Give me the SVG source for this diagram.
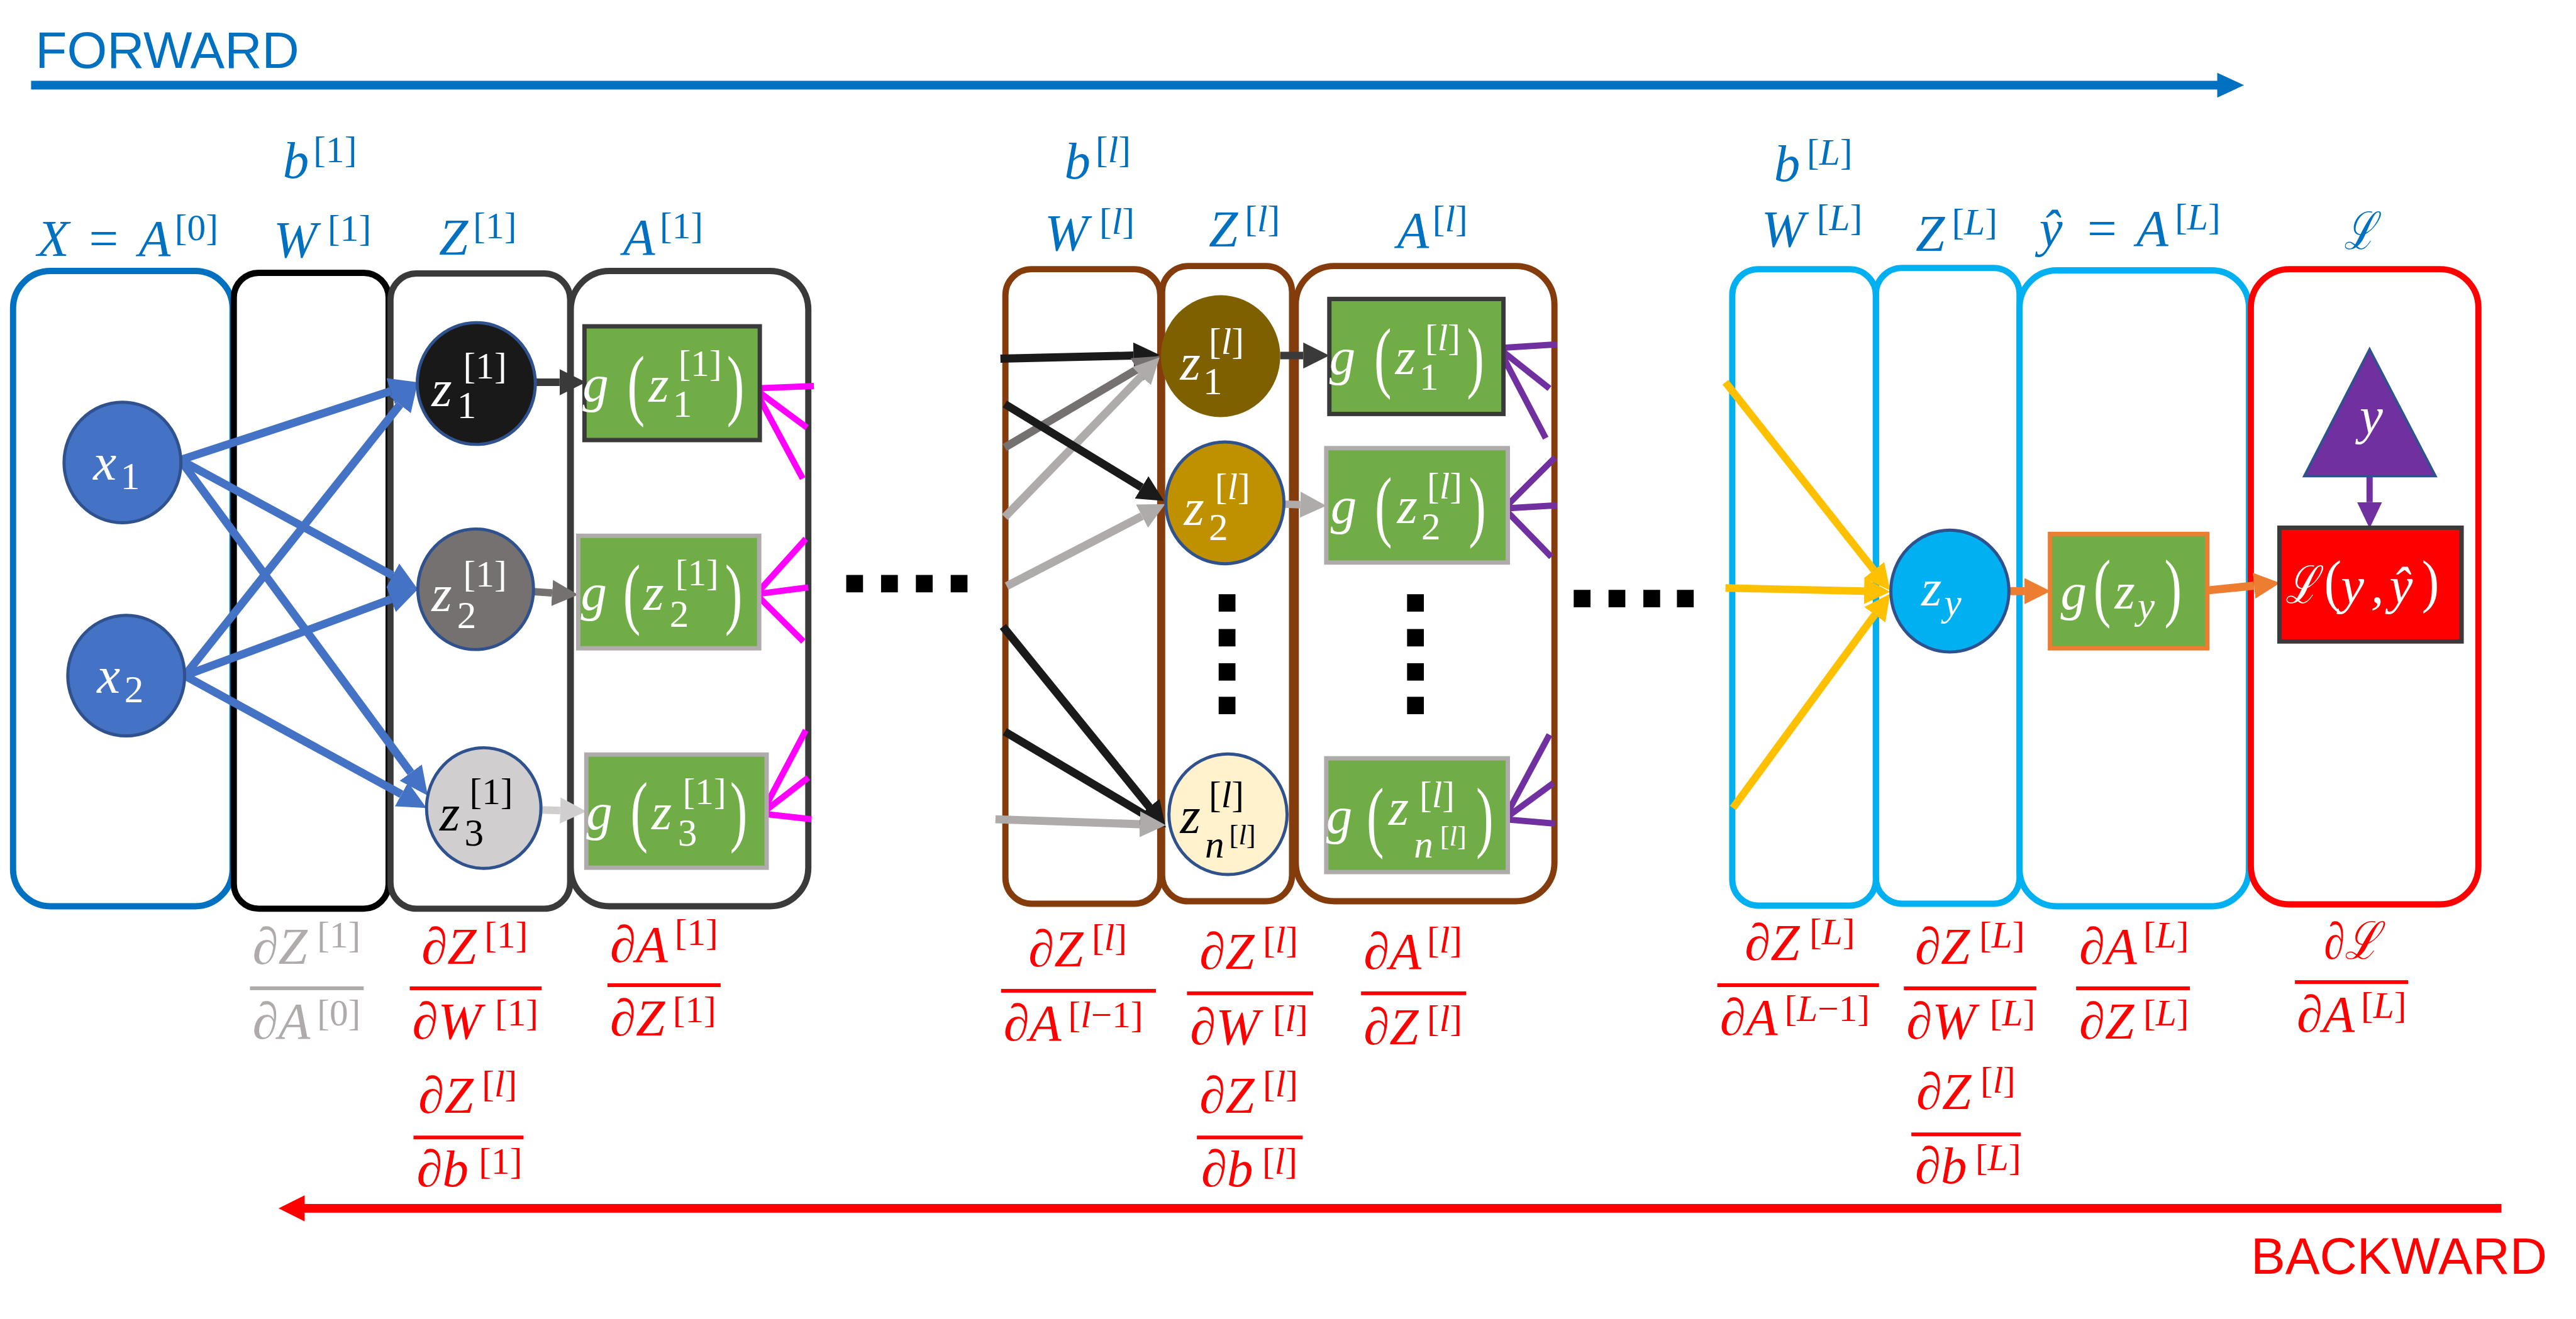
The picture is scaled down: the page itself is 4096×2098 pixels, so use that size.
<svg xmlns="http://www.w3.org/2000/svg" width="4096" height="2098" viewBox="0 0 4096 2098">
<style>
.bx{fill:none;stroke-width:10}
.m{font-family:"Liberation Serif","DejaVu Serif",serif;font-style:italic;font-size:84px}
.u{font-style:normal}
.i{font-style:italic}
.sp{font-size:60px}
.sb{font-size:62px}
.ss{font-size:45px}
.blu{fill:#0070C0}
.red{fill:#FF0000}
.gry{fill:#AFABAB}
.wt{fill:#FFFFFF}
.bk{fill:#000000}
.ln{fill:none;stroke-linecap:butt}
.sans{font-family:"Liberation Sans",Arial,sans-serif;font-size:83px}
</style>
<defs>
<marker id="aB" markerUnits="userSpaceOnUse" viewBox="0 -22 46 44" refX="0" refY="0" markerWidth="46" markerHeight="44" orient="auto"><path d="M0,-22L46,0L0,22z" fill="#4472C4"/></marker>
<marker id="aD" markerUnits="userSpaceOnUse" viewBox="0 -21 42 42" refX="0" refY="0" markerWidth="42" markerHeight="42" orient="auto"><path d="M0,-21L42,0L0,21z" fill="#3A3A3A"/></marker>
<marker id="aG" markerUnits="userSpaceOnUse" viewBox="0 -21 42 42" refX="0" refY="0" markerWidth="42" markerHeight="42" orient="auto"><path d="M0,-21L42,0L0,21z" fill="#767171"/></marker>
<marker id="aL" markerUnits="userSpaceOnUse" viewBox="0 -21 42 42" refX="0" refY="0" markerWidth="42" markerHeight="42" orient="auto"><path d="M0,-21L42,0L0,21z" fill="#D0CECE"/></marker>
<marker id="aS" markerUnits="userSpaceOnUse" viewBox="0 -21 42 42" refX="0" refY="0" markerWidth="42" markerHeight="42" orient="auto"><path d="M0,-21L42,0L0,21z" fill="#AFABAB"/></marker>
<marker id="aK" markerUnits="userSpaceOnUse" viewBox="0 -21 42 42" refX="0" refY="0" markerWidth="42" markerHeight="42" orient="auto"><path d="M0,-21L42,0L0,21z" fill="#1A1A1A"/></marker>
<marker id="aY" markerUnits="userSpaceOnUse" viewBox="0 -21 42 42" refX="0" refY="0" markerWidth="42" markerHeight="42" orient="auto"><path d="M0,-21L42,0L0,21z" fill="#FFC000"/></marker>
<marker id="aO" markerUnits="userSpaceOnUse" viewBox="0 -21 42 42" refX="0" refY="0" markerWidth="42" markerHeight="42" orient="auto"><path d="M0,-21L42,0L0,21z" fill="#ED7D31"/></marker>
<marker id="aP" markerUnits="userSpaceOnUse" viewBox="0 -20 42 40" refX="0" refY="0" markerWidth="42" markerHeight="40" orient="auto"><path d="M0,-20L42,0L0,20z" fill="#7030A0"/></marker>
</defs>
<rect x="0" y="0" width="4096" height="2098" fill="#FFFFFF"/>
<g transform="scale(0.98866)">

<!-- direction arrows -->
<g id="forward">
<text class="sans" x="57" y="109" fill="#0070C0">FORWARD</text>
<rect x="50" y="130" width="3518" height="14" fill="#0070C0"/>
<path d="M3566,117L3609,137L3566,157z" fill="#0070C0"/>
</g>
<g id="backward">
<rect x="487" y="1937" width="3536" height="14" fill="#FF0000"/>
<path d="M490,1923L448,1944L490,1965z" fill="#FF0000"/>
<text class="sans" x="3620" y="2049" fill="#FF0000">BACKWARD</text>
</g>

<!-- column containers -->
<g id="columns">
<rect id="colX" class="bx" x="21" y="436" width="353" height="1022" rx="60" stroke="#0070C0"/>
<rect id="colW1" class="bx" x="376" y="439" width="249" height="1023" rx="40" stroke="#000000"/>
<rect id="colZ1" class="bx" x="628" y="440" width="289" height="1022" rx="42" stroke="#3A3A3A"/>
<rect id="colA1" class="bx" x="918" y="436" width="382" height="1022" rx="62" stroke="#3A3A3A"/>
<rect id="colWl" class="bx" x="1617" y="433" width="249" height="1021" rx="42" stroke="#843C0C"/>
<rect id="colZl" class="bx" x="1869" y="428" width="209" height="1022" rx="42" stroke="#843C0C"/>
<rect id="colAl" class="bx" x="2084" y="428" width="416" height="1022" rx="62" stroke="#843C0C"/>
<rect id="colWL" class="bx" x="2786" y="433" width="231" height="1024" rx="42" stroke="#00B0F0"/>
<rect id="colZL" class="bx" x="3017" y="431" width="231" height="1023" rx="42" stroke="#00B0F0"/>
<rect id="colYL" class="bx" x="3248" y="435" width="369" height="1023" rx="60" stroke="#00B0F0"/>
<rect id="colLoss" class="bx" x="3620" y="433" width="366" height="1022" rx="62" stroke="#FF0000"/>
</g>

<!-- column labels -->
<g id="labels">
<text class="m blu" x="455" y="286">b<tspan class="u sp" x="504" y="261">[1]</tspan></text>
<text class="m blu" x="60" y="412">X<tspan class="u" x="143">=</tspan><tspan x="223">A</tspan><tspan class="u sp" x="281" y="386">[0]</tspan></text>
<text class="m blu" x="440" y="414">W<tspan class="u sp" x="527" y="387">[1]</tspan></text>
<text class="m blu" x="706" y="410">Z<tspan class="u sp" x="761" y="383">[1]</tspan></text>
<text class="m blu" x="1002" y="410">A<tspan class="u sp" x="1061" y="383">[1]</tspan></text>
<text class="m blu" x="1712" y="287">b<tspan class="u sp" x="1762" y="261">[<tspan class="i">l</tspan>]</tspan></text>
<text class="m blu" x="1680" y="403">W<tspan class="u sp" x="1768" y="376">[<tspan class="i">l</tspan>]</tspan></text>
<text class="m blu" x="1944" y="397">Z<tspan class="u sp" x="2002" y="372">[<tspan class="i">l</tspan>]</tspan></text>
<text class="m blu" x="2247" y="399">A<tspan class="u sp" x="2304" y="372">[<tspan class="i">l</tspan>]</tspan></text>
<text class="m blu" x="2853" y="291">b<tspan class="u sp" x="2906" y="265">[<tspan class="i">L</tspan>]</tspan></text>
<text class="m blu" x="2833" y="397">W<tspan class="u sp" x="2922" y="370">[<tspan class="i">L</tspan>]</tspan></text>
<text class="m blu" x="3081" y="404">Z<tspan class="u sp" x="3139" y="377">[<tspan class="i">L</tspan>]</tspan></text>
<text class="m blu" x="3280" y="395">ŷ<tspan class="u" x="3357">=</tspan><tspan x="3436">A</tspan><tspan class="u sp" x="3498" y="369">[<tspan class="i">L</tspan>]</tspan></text>
<text class="m blu" x="3770" y="401" textLength="51" lengthAdjust="spacingAndGlyphs">ℒ</text>
</g>

<!-- horizontal and vertical ellipsis dots -->
<g id="dots" fill="#000000">
<rect x="1361" y="925" width="27" height="28"/><rect x="1417" y="925" width="27" height="28"/><rect x="1473" y="925" width="27" height="28"/><rect x="1529" y="925" width="27" height="28"/>
<rect x="2531" y="949" width="27" height="28"/><rect x="2587" y="949" width="27" height="28"/><rect x="2643" y="949" width="27" height="28"/><rect x="2697" y="949" width="27" height="28"/>
<rect x="1960" y="956" width="27" height="28"/><rect x="1960" y="1012" width="27" height="28"/><rect x="1960" y="1067" width="27" height="28"/><rect x="1960" y="1121" width="27" height="28"/>
<rect x="2263" y="956" width="27" height="28"/><rect x="2263" y="1012" width="27" height="28"/><rect x="2263" y="1067" width="27" height="28"/><rect x="2263" y="1121" width="27" height="28"/>
</g>

<!-- connectors -->
<g id="connectors" class="ln">
<line x1="290" y1="740" x2="628.3" y2="629.3" stroke="#4472C4" stroke-width="13" marker-end="url(#aB)"/>
<line x1="290" y1="740" x2="631.6" y2="926" stroke="#4472C4" stroke-width="13" marker-end="url(#aB)"/>
<line x1="290" y1="740" x2="660.7" y2="1243" stroke="#4472C4" stroke-width="13" marker-end="url(#aB)"/>
<line x1="297" y1="1087" x2="643.4" y2="651" stroke="#4472C4" stroke-width="13" marker-end="url(#aB)"/>
<line x1="297" y1="1087" x2="628.9" y2="964" stroke="#4472C4" stroke-width="13" marker-end="url(#aB)"/>
<line x1="297" y1="1087" x2="645.7" y2="1277.9" stroke="#4472C4" stroke-width="13" marker-end="url(#aB)"/>
<line x1="862" y1="615" x2="900" y2="615" stroke="#3A3A3A" stroke-width="12" marker-end="url(#aD)"/>
<line x1="859" y1="952" x2="888" y2="954" stroke="#767171" stroke-width="12" marker-end="url(#aG)"/>
<line x1="870" y1="1303" x2="901" y2="1304" stroke="#D0CECE" stroke-width="12" marker-end="url(#aL)"/>
<path d="M1309,621L1213,625L1291,770M1213,625L1298,688" stroke="#FF00FF" stroke-width="10"/>
<path d="M1296,867L1216,956L1292,1032M1216,956L1300,945" stroke="#FF00FF" stroke-width="10"/>
<path d="M1296,1175L1225,1309L1305,1318M1225,1309L1300,1251" stroke="#FF00FF" stroke-width="10"/>
<line x1="1609" y1="577" x2="1823" y2="572" stroke="#1A1A1A" stroke-width="13" marker-end="url(#aK)"/>
<line x1="1616" y1="720" x2="1828.8" y2="594.3" stroke="#767171" stroke-width="13" marker-end="url(#aG)"/>
<line x1="1616" y1="832" x2="1835.8" y2="605.2" stroke="#AFABAB" stroke-width="13" marker-end="url(#aS)"/>
<line x1="1616" y1="650" x2="1836.1" y2="784.1" stroke="#1A1A1A" stroke-width="13" marker-end="url(#aK)"/>
<line x1="1619" y1="943" x2="1836.7" y2="830.3" stroke="#AFABAB" stroke-width="13" marker-end="url(#aS)"/>
<line x1="1613" y1="1008" x2="1848.5" y2="1298.4" stroke="#1A1A1A" stroke-width="13" marker-end="url(#aK)"/>
<line x1="1616" y1="1177" x2="1838.9" y2="1309.5" stroke="#1A1A1A" stroke-width="13" marker-end="url(#aK)"/>
<line x1="1601" y1="1318" x2="1833" y2="1326" stroke="#AFABAB" stroke-width="13" marker-end="url(#aS)"/>
<line x1="2059" y1="572" x2="2096" y2="572" stroke="#3A3A3A" stroke-width="12" marker-end="url(#aD)"/>
<line x1="2065" y1="811" x2="2091" y2="812" stroke="#AFABAB" stroke-width="12" marker-end="url(#aS)"/>
<path d="M2504,554L2410,560L2486,705M2410,560L2492,625" stroke="#7030A0" stroke-width="10"/>
<path d="M2501,736L2419,818L2495,896M2419,818L2504,813" stroke="#7030A0" stroke-width="10"/>
<path d="M2492,1182L2419,1318L2501,1325M2419,1318L2498,1260" stroke="#7030A0" stroke-width="10"/>
<line x1="2775" y1="615" x2="3013.9" y2="917.1" stroke="#FFC000" stroke-width="12" marker-end="url(#aY)"/>
<line x1="2775" y1="946" x2="2998" y2="951" stroke="#FFC000" stroke-width="12" marker-end="url(#aY)"/>
<line x1="2787" y1="1300" x2="3015.2" y2="988.9" stroke="#FFC000" stroke-width="12" marker-end="url(#aY)"/>
<line x1="3231" y1="951" x2="3256" y2="951" stroke="#ED7D31" stroke-width="13" marker-end="url(#aO)"/>
<line x1="3550" y1="950" x2="3625.2" y2="942.2" stroke="#ED7D31" stroke-width="13" marker-end="url(#aO)"/>
<line x1="3811" y1="766" x2="3811" y2="808" stroke="#7030A0" stroke-width="10" marker-end="url(#aP)"/>
</g>

<!-- nodes: layer 0 -->
<g id="x1">
<ellipse cx="197" cy="744" rx="94" ry="97" fill="#4472C4" stroke="#2F528F" stroke-width="5"/>
<text class="m wt" x="150" y="772">x<tspan class="u sb" x="194" y="787">1</tspan></text>
</g>
<g id="x2">
<ellipse cx="203" cy="1087" rx="94" ry="97" fill="#4472C4" stroke="#2F528F" stroke-width="5"/>
<text class="m wt" x="156" y="1115">x<tspan class="u sb" x="200" y="1130">2</tspan></text>
</g>

<!-- nodes: layer 1 -->
<g id="z1_1">
<ellipse cx="766" cy="617" rx="95" ry="98" fill="#191919" stroke="#2F528F" stroke-width="5"/>
<text class="m wt" x="694" y="653">z<tspan class="u sb" x="735" y="673">1</tspan><tspan class="u sp" x="745" y="609">[1]</tspan></text>
</g>
<g id="z2_1">
<ellipse cx="765" cy="948" rx="93" ry="97" fill="#767171" stroke="#2F528F" stroke-width="5"/>
<text class="m wt" x="694" y="983">z<tspan class="u sb" x="735" y="1010">2</tspan><tspan class="u sp" x="745" y="944">[1]</tspan></text>
</g>
<g id="z3_1">
<ellipse cx="778" cy="1300" rx="92" ry="97" fill="#D0CECE" stroke="#2F528F" stroke-width="5"/>
<text class="m bk" x="707" y="1336">z<tspan class="u sb" x="747" y="1360">3</tspan><tspan class="u sp" x="755" y="1294">[1]</tspan></text>
</g>
<g id="g1_1">
<rect x="940" y="525" width="282" height="183" fill="#70AD47" stroke="#3A3A3A" stroke-width="7"/>
<text class="m wt" x="937" y="645">g</text>
<text class="m u wt" font-size="100" transform="translate(1009,660) scale(1,1.5)">(</text>
<text class="m wt" x="1043" y="646">z<tspan class="u sb" x="1082" y="671">1</tspan><tspan class="u sp" x="1091" y="605">[1]</tspan></text>
<text class="m u wt" font-size="100" transform="translate(1169,660) scale(1,1.5)">)</text>
</g>
<g id="g2_1">
<rect x="930" y="862" width="291" height="181" fill="#70AD47" stroke="#AFABAB" stroke-width="7"/>
<text class="m wt" x="934" y="981">g</text>
<text class="m u wt" font-size="100" transform="translate(1002,996) scale(1,1.5)">(</text>
<text class="m wt" x="1035" y="981">z<tspan class="u sb" x="1077" y="1008">2</tspan><tspan class="u sp" x="1086" y="942">[1]</tspan></text>
<text class="m u wt" font-size="100" transform="translate(1166,996) scale(1,1.5)">)</text>
</g>
<g id="g3_1">
<rect x="943" y="1214" width="290" height="182" fill="#70AD47" stroke="#AFABAB" stroke-width="7"/>
<text class="m wt" x="943" y="1334">g</text>
<text class="m u wt" font-size="100" transform="translate(1014,1346) scale(1,1.5)">(</text>
<text class="m wt" x="1048" y="1334">z<tspan class="u sb" x="1090" y="1360">3</tspan><tspan class="u sp" x="1098" y="1294">[1]</tspan></text>
<text class="m u wt" font-size="100" transform="translate(1174,1346) scale(1,1.5)">)</text>
</g>

<!-- nodes: layer l -->
<g id="z1_l">
<ellipse cx="1963" cy="573" rx="96" ry="98" fill="#7F6000"/>
<text class="m wt" x="1898" y="611">z<tspan class="u sb" x="1935" y="634">1</tspan><tspan class="u sp" x="1944" y="569">[<tspan class="i">l</tspan>]</tspan></text>
</g>
<g id="z2_l">
<ellipse cx="1970" cy="809" rx="95" ry="98" fill="#BF9000" stroke="#2F528F" stroke-width="5"/>
<text class="m wt" x="1904" y="845">z<tspan class="u sb" x="1944" y="869">2</tspan><tspan class="u sp" x="1954" y="803">[<tspan class="i">l</tspan>]</tspan></text>
</g>
<g id="zn_l">
<ellipse cx="1975" cy="1310" rx="95" ry="97" fill="#FFF2CC" stroke="#2F528F" stroke-width="5"/>
<text class="m bk" x="1898" y="1340">z<tspan class="u sp" x="1944" y="1299">[<tspan class="i">l</tspan>]</tspan><tspan class="sb" x="1938" y="1380">n</tspan><tspan class="u ss" x="1977" y="1358">[<tspan class="i">l</tspan>]</tspan></text>
</g>
<g id="g1_l">
<rect x="2138" y="481" width="280" height="185" fill="#70AD47" stroke="#3A3A3A" stroke-width="7"/>
<text class="m wt" x="2138" y="602">g</text>
<text class="m u wt" font-size="100" transform="translate(2210,616) scale(1,1.5)">(</text>
<text class="m wt" x="2244" y="602">z<tspan class="u sb" x="2283" y="627">1</tspan><tspan class="u sp" x="2292" y="563">[<tspan class="i">l</tspan>]</tspan></text>
<text class="m u wt" font-size="100" transform="translate(2359,616) scale(1,1.5)">)</text>
</g>
<g id="g2_l">
<rect x="2133" y="721" width="292" height="184" fill="#70AD47" stroke="#AFABAB" stroke-width="7"/>
<text class="m wt" x="2140" y="842">g</text>
<text class="m u wt" font-size="100" transform="translate(2211,856) scale(1,1.5)">(</text>
<text class="m wt" x="2247" y="842">z<tspan class="u sb" x="2286" y="868">2</tspan><tspan class="u sp" x="2295" y="802">[<tspan class="i">l</tspan>]</tspan></text>
<text class="m u wt" font-size="100" transform="translate(2362,856) scale(1,1.5)">)</text>
</g>
<g id="gn_l">
<rect x="2133" y="1220" width="292" height="183" fill="#70AD47" stroke="#AFABAB" stroke-width="7"/>
<text class="m wt" x="2133" y="1340">g</text>
<text class="m u wt" font-size="100" transform="translate(2198,1355) scale(1,1.5)">(</text>
<text class="m wt" x="2233" y="1327">z<tspan class="u sp" x="2283" y="1299">[<tspan class="i">l</tspan>]</tspan><tspan class="sb" x="2274" y="1380">n</tspan><tspan class="u ss" x="2316" y="1360">[<tspan class="i">l</tspan>]</tspan></text>
<text class="m u wt" font-size="100" transform="translate(2374,1355) scale(1,1.5)">)</text>
</g>

<!-- nodes: output layer -->
<g id="zy">
<ellipse cx="3136" cy="951" rx="95" ry="98" fill="#00B0F0" stroke="#2F528F" stroke-width="5"/>
<text class="m wt" x="3090" y="974">z<tspan class="sb" x="3127" y="990">y</tspan></text>
</g>
<g id="gzy">
<rect x="3297" y="859" width="253" height="184" fill="#70AD47" stroke="#ED7D31" stroke-width="7"/>
<text class="m wt" x="3314" y="980">g</text>
<text class="m u wt" font-size="80" transform="translate(3367,985) scale(1,1.45)">(</text>
<text class="m wt" x="3401" y="979">z<tspan class="sb" x="3438" y="995">y</tspan></text>
<text class="m u wt" font-size="80" transform="translate(3481,985) scale(1,1.45)">)</text>
</g>
<g id="ytrue">
<polygon points="3811,562 3706,766 3917,766" fill="#7030A0" stroke="#2F528F" stroke-width="4"/>
<text class="m wt" x="3795" y="697">y</text>
</g>
<g id="loss">
<rect x="3666" y="849" width="293" height="183" fill="#FF0000" stroke="#3A3A3A" stroke-width="7"/>
<text class="m wt" x="3676" y="970" textLength="52" lengthAdjust="spacingAndGlyphs">ℒ</text>
<text class="m u wt" font-size="80" transform="translate(3738,967) scale(1,1.12)">(</text>
<text class="m wt" x="3765" y="970">y</text>
<text class="m wt" x="3813" y="970">,</text>
<text class="m wt" x="3843" y="970">ŷ</text>
<text class="m u wt" font-size="80" transform="translate(3895,967) scale(1,1.12)">)</text>
</g>

<!-- derivative labels -->
<g id="derivatives">
<g id="d1">
<text class="m gry" x="406" y="1551">∂Z<tspan class="u sp" x="510" y="1524">[1]</tspan></text>
<rect x="402" y="1587" width="183" height="6" fill="#AFABAB"/>
<text class="m gry" x="406" y="1671">∂A<tspan class="u sp" x="510" y="1650">[0]</tspan></text>
</g>
<g id="d2">
<text class="m red" x="678" y="1551">∂Z<tspan class="u sp" x="779" y="1524">[1]</tspan></text>
<rect x="659" y="1587" width="212" height="6" fill="#FF0000"/>
<text class="m red" x="663" y="1671">∂W<tspan class="u sp" x="796" y="1650">[1]</tspan></text>
</g>
<g id="d3">
<text class="m red" x="981" y="1548">∂A<tspan class="u sp" x="1085" y="1520">[1]</tspan></text>
<rect x="977" y="1582" width="182" height="6" fill="#FF0000"/>
<text class="m red" x="981" y="1666">∂Z<tspan class="u sp" x="1082" y="1645">[1]</tspan></text>
</g>
<g id="d4">
<text class="m red" x="673" y="1790">∂Z<tspan class="u sp" x="775" y="1764">[<tspan class="i">l</tspan>]</tspan></text>
<rect x="665" y="1827" width="177" height="6" fill="#FF0000"/>
<text class="m red" x="670" y="1909">∂b<tspan class="u sp" x="770" y="1888">[1]</tspan></text>
</g>
<g id="d5">
<text class="m red" x="1654" y="1555">∂Z<tspan class="u sp" x="1756" y="1528">[<tspan class="i">l</tspan>]</tspan></text>
<rect x="1610" y="1591" width="249" height="6" fill="#FF0000"/>
<text class="m red" x="1614" y="1674">∂A<tspan class="u sp" x="1718" y="1653">[<tspan class="i">l</tspan>−1]</tspan></text>
</g>
<g id="d6">
<text class="m red" x="1929" y="1559">∂Z<tspan class="u sp" x="2031" y="1532">[<tspan class="i">l</tspan>]</tspan></text>
<rect x="1909" y="1595" width="203" height="6" fill="#FF0000"/>
<text class="m red" x="1914" y="1680">∂W<tspan class="u sp" x="2047" y="1659">[<tspan class="i">l</tspan>]</tspan></text>
</g>
<g id="d7">
<text class="m red" x="2193" y="1559">∂A<tspan class="u sp" x="2295" y="1532">[<tspan class="i">l</tspan>]</tspan></text>
<rect x="2189" y="1595" width="169" height="6" fill="#FF0000"/>
<text class="m red" x="2193" y="1680">∂Z<tspan class="u sp" x="2295" y="1659">[<tspan class="i">l</tspan>]</tspan></text>
</g>
<g id="d8">
<text class="m red" x="1929" y="1790">∂Z<tspan class="u sp" x="2031" y="1764">[<tspan class="i">l</tspan>]</tspan></text>
<rect x="1925" y="1827" width="170" height="6" fill="#FF0000"/>
<text class="m red" x="1932" y="1909">∂b<tspan class="u sp" x="2030" y="1888">[<tspan class="i">l</tspan>]</tspan></text>
</g>
<g id="d9">
<text class="m red" x="2806" y="1545">∂Z<tspan class="u sp" x="2910" y="1519">[<tspan class="i">L</tspan>]</tspan></text>
<rect x="2762" y="1582" width="260" height="6" fill="#FF0000"/>
<text class="m red" x="2766" y="1665">∂A<tspan class="u sp" x="2870" y="1643">[<tspan class="i">L</tspan>−1]</tspan></text>
</g>
<g id="d10">
<text class="m red" x="3080" y="1551">∂Z<tspan class="u sp" x="3183" y="1524">[<tspan class="i">L</tspan>]</tspan></text>
<rect x="3062" y="1587" width="213" height="6" fill="#FF0000"/>
<text class="m red" x="3066" y="1671">∂W<tspan class="u sp" x="3200" y="1650">[<tspan class="i">L</tspan>]</tspan></text>
</g>
<g id="d11">
<text class="m red" x="3344" y="1551">∂A<tspan class="u sp" x="3447" y="1524">[<tspan class="i">L</tspan>]</tspan></text>
<rect x="3339" y="1587" width="183" height="6" fill="#FF0000"/>
<text class="m red" x="3344" y="1671">∂Z<tspan class="u sp" x="3447" y="1650">[<tspan class="i">L</tspan>]</tspan></text>
</g>
<g id="d12">
<text class="m red" x="3738" y="1542" textLength="89" lengthAdjust="spacingAndGlyphs">∂ℒ</text>
<rect x="3691" y="1577" width="182" height="6" fill="#FF0000"/>
<text class="m red" x="3694" y="1660">∂A<tspan class="u sp" x="3797" y="1638">[<tspan class="i">L</tspan>]</tspan></text>
</g>
<g id="d13">
<text class="m red" x="3082" y="1784">∂Z<tspan class="u sp" x="3185" y="1758">[<tspan class="i">l</tspan>]</tspan></text>
<rect x="3074" y="1822" width="176" height="6" fill="#FF0000"/>
<text class="m red" x="3080" y="1904">∂b<tspan class="u sp" x="3177" y="1882">[<tspan class="i">L</tspan>]</tspan></text>
</g>
</g>

</g>
</svg>
